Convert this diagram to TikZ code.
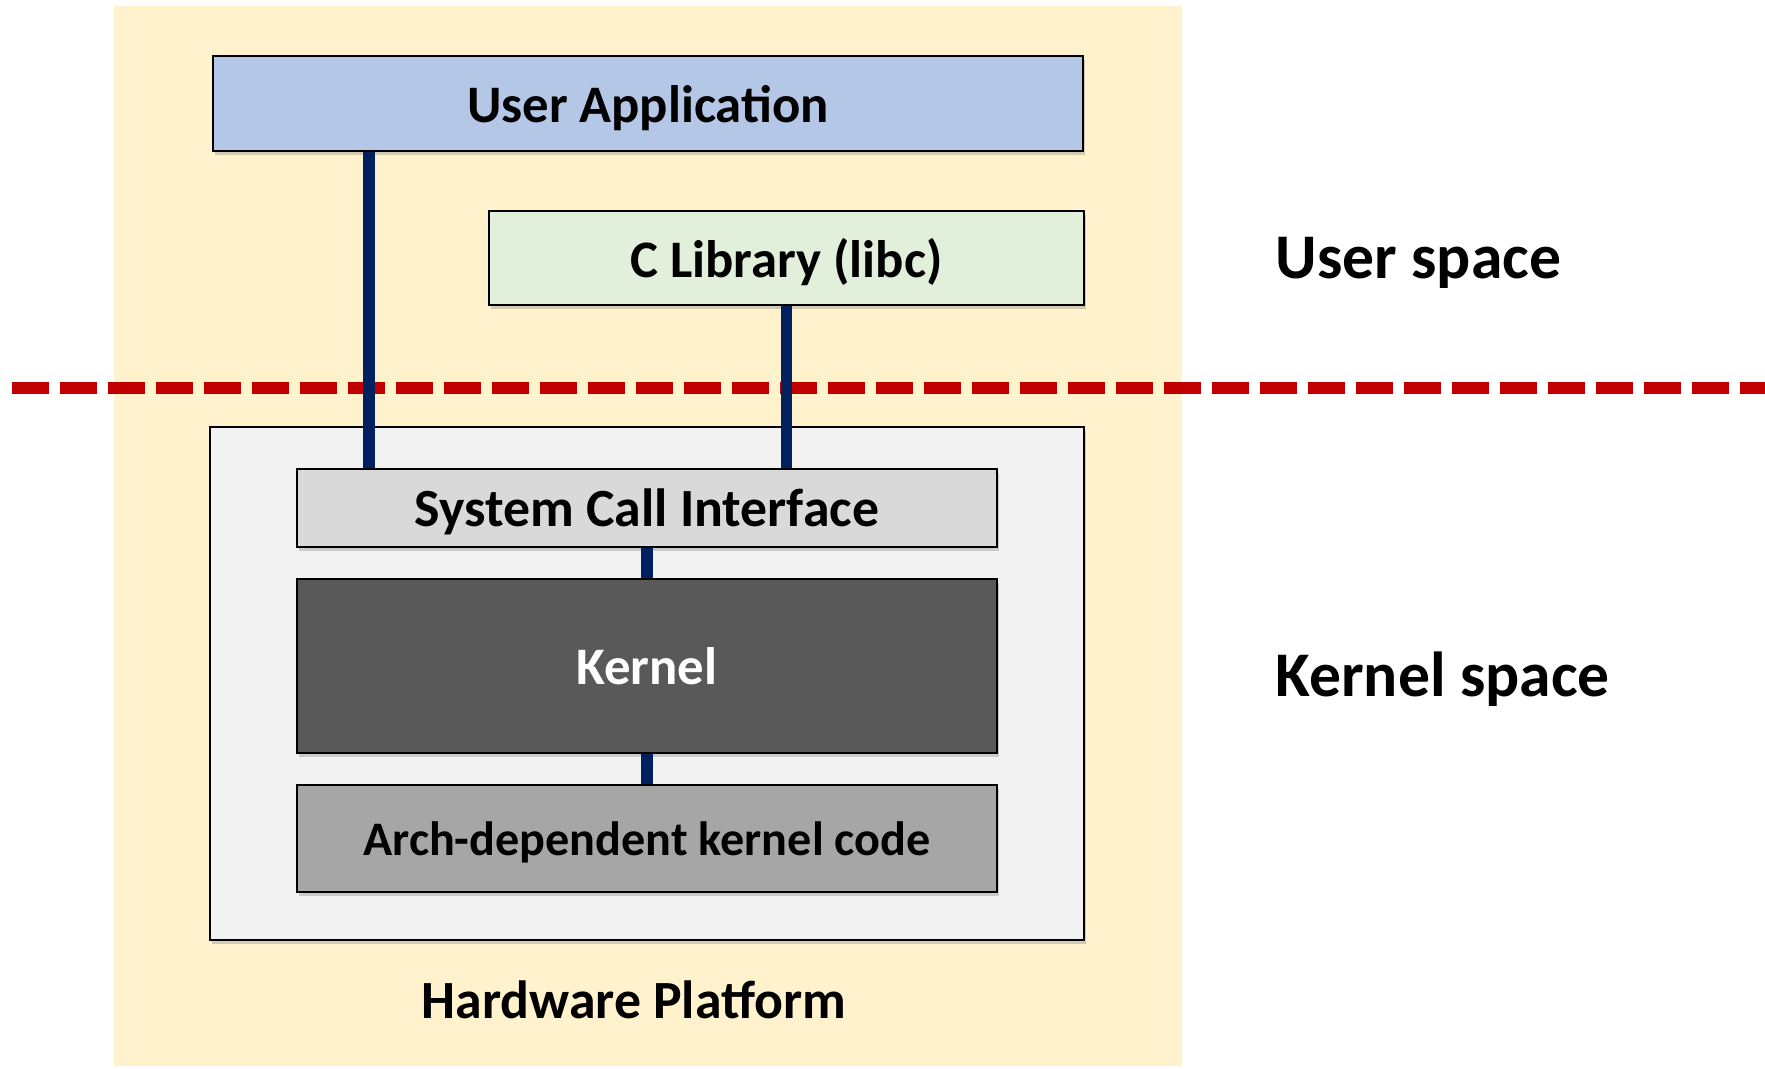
\documentclass[tikz,border=0pt]{standalone}
\usepackage{fontspec}
\setmainfont{Carlito}
\usepackage{tikz}
\usetikzlibrary{shadows}

\definecolor{bgyellow}{HTML}{FFF2CC}
\definecolor{appblue}{HTML}{B4C7E7}
\definecolor{libgreen}{HTML}{E2EFDA}
\definecolor{hwgray}{HTML}{F2F2F2}
\definecolor{scigray}{HTML}{D9D9D9}
\definecolor{kerngray}{HTML}{595959}
\definecolor{archgray}{HTML}{A6A6A6}
\definecolor{linkblue}{HTML}{002060}
\definecolor{splitred}{HTML}{C00000}

\begin{document}
\begin{tikzpicture}[
    layer/.style={rectangle, draw=black, line width=0.8pt, inner sep=0pt, text depth=0pt,
      font=\bfseries\fontsize{15}{18}\selectfont,
      drop shadow={shadow xshift=0.6pt, shadow yshift=-1.2pt, opacity=0.35}},
    link/.style={linkblue, line width=3.4pt},
    spacelabel/.style={anchor=west, inner sep=0pt, font=\bfseries\fontsize{18.1}{22}\selectfont}
  ]
  \useasboundingbox (0,0) rectangle (17.65,-10.68);
  \fill[bgyellow] (1.14,-0.06) rectangle (11.82,-10.66);
  % user/kernel split
  \coordinate (dl) at (0.12,-3.88);
  \coordinate (dr) at (17.70,-3.88);
  \draw[splitred, line width=3.4pt, dash pattern=on 0.37cm off 0.11cm] (dl) -- (dr);
  % boxes
  \node[layer, fill=appblue, minimum width=8.70cm, minimum height=0.95cm] (ua) at (6.48,-1.035) {User Application};
  \node[layer, fill=libgreen, minimum width=5.95cm, minimum height=0.94cm] (libc) at (7.865,-2.58) {C Library (libc)};
  \node[layer, fill=hwgray, minimum width=8.74cm, minimum height=5.13cm] (hw) at (6.47,-6.835) {};
  \node[layer, fill=scigray, minimum width=7.00cm, minimum height=0.78cm, font=\bfseries\fontsize{15.3}{18}\selectfont] (sci) at (6.47,-5.08) {System Call Interface};
  \node[layer, fill=kerngray, text=white, minimum width=7.00cm, minimum height=1.74cm] (kern) at (6.47,-6.66) {Kernel};
  \node[layer, fill=archgray, minimum width=7.00cm, minimum height=1.07cm, font=\bfseries\fontsize{13.7}{16}\selectfont] (arch) at (6.47,-8.385) {Arch-dependent kernel code};
  \node[font=\bfseries\fontsize{15.3}{18}\selectfont] (hwlabel) at (6.34,-10.0) {Hardware Platform};
  \node[spacelabel] (us) at (12.75,-2.63) {User space};
  \node[spacelabel] (ks) at (12.75,-6.79) {Kernel space};
  % calls
  \coordinate (p1) at (3.69,0);
  \draw[link] (ua.south -| p1) -- (sci.north -| p1);
  \draw[link] (libc.south) -- (libc.south |- sci.north);
  \draw[link] (sci.south) -- (kern.north);
  \draw[link] (kern.south) -- (arch.north);
\end{tikzpicture}
\end{document}
